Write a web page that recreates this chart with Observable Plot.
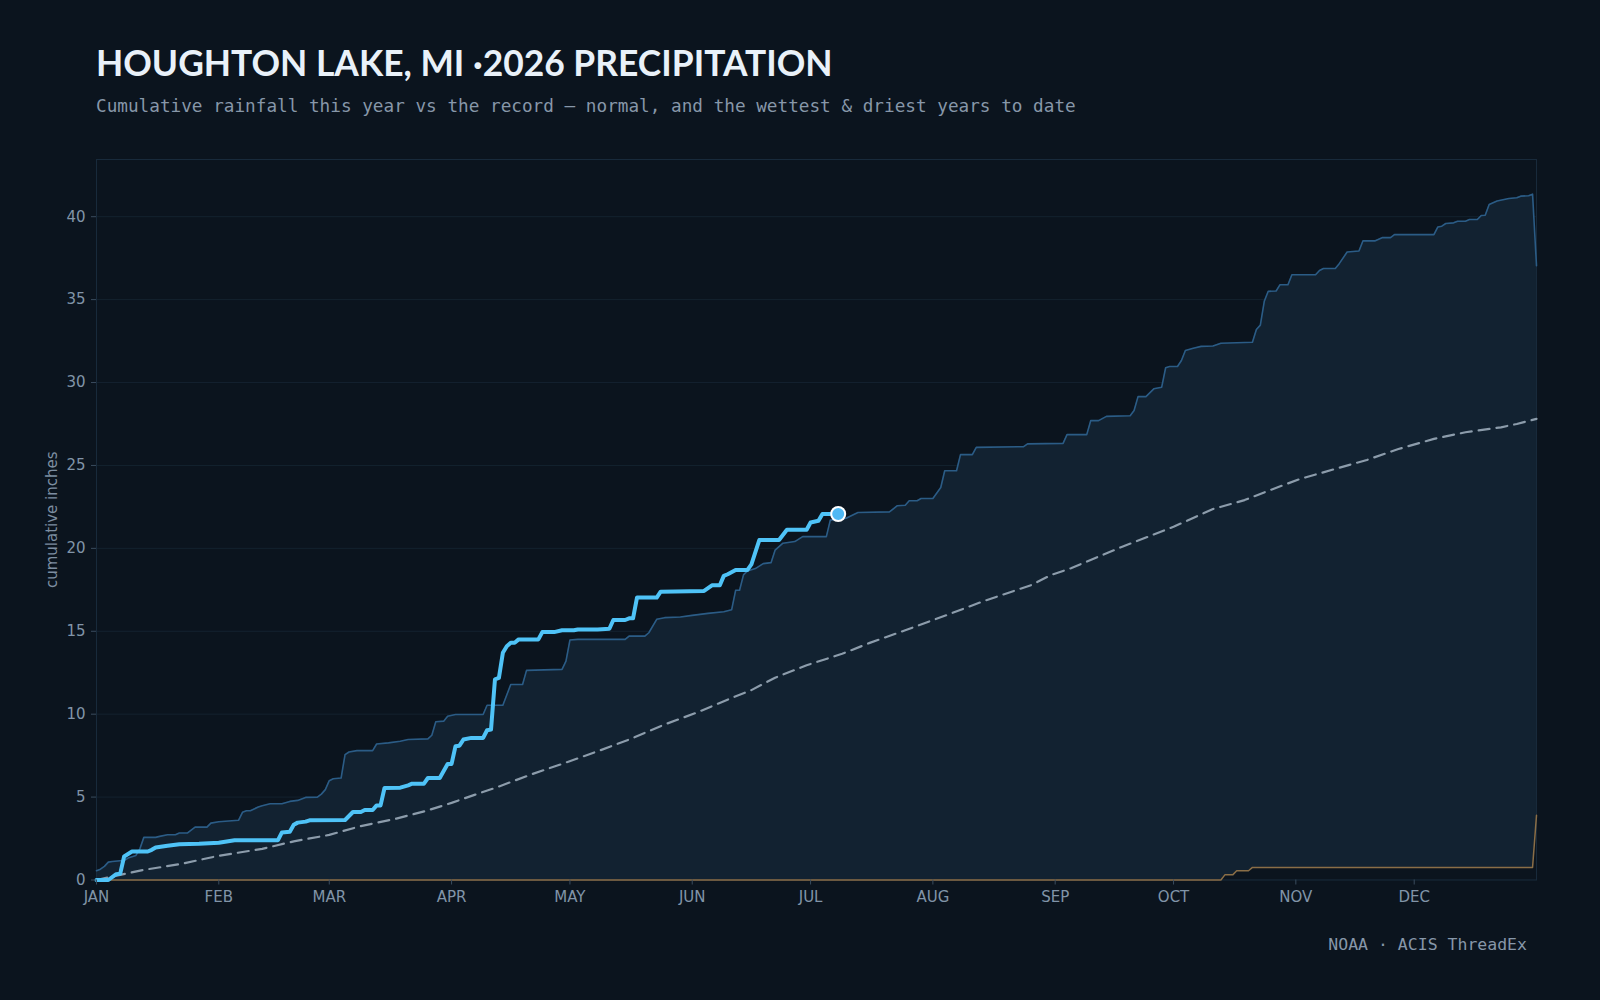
<!DOCTYPE html>
<html>
<head>
<meta charset="utf-8">
<script src="https://cdn.jsdelivr.net/npm/d3@7"></script>
<script src="https://cdn.jsdelivr.net/npm/@observablehq/plot@0.6"></script>
<style>
  html, body { margin: 0; padding: 0; background: #0b141e; }
  #page { position: relative; width: 1600px; height: 1000px; background: #0b141e; overflow: hidden; }
  #title { position: absolute; left: 96px; top: 45px; font-family: Lato, "Noto Sans", sans-serif; font-weight: 700;
           font-size: 35.4px; line-height: 1; color: #e9f1f9; white-space: nowrap; letter-spacing: 0px; }
  #subtitle { position: absolute; left: 96px; top: 98px; font-family: "DejaVu Sans Mono", monospace; font-size: 17.7px;
              line-height: 1; color: #8797a9; white-space: nowrap; }
  #chart { position: absolute; left: 0; top: 130px; }
  #footer { position: absolute; right: 73px; top: 937px; font-family: "DejaVu Sans Mono", monospace; font-size: 16.5px;
            line-height: 1; color: #8797a9; white-space: nowrap; }
</style>
</head>
<body>
<div id="page">
  <div id="title">HOUGHTON LAKE, MI ·2026 PRECIPITATION</div>
  <div id="subtitle">Cumulative rainfall this year vs the record — normal, and the wettest &amp; driest years to date</div>
  <div id="chart"></div>
  <div id="footer">NOAA · ACIS ThreadEx</div>
</div>
<script>
// ---- Data: [day of year (0 = Jan 1), cumulative inches] ----
const thisYear = [[0,0],[3,0],[5,0.35],[6,0.37],[7,1.42],[9,1.72],[13,1.72],[14,1.82],[15,1.96],[18,2.06],[21,2.16],[26,2.18],[31,2.25],[35,2.4],[46,2.4],[47,2.87],[49,2.91],[50,3.33],[51,3.46],[53,3.52],[54,3.6],[63,3.62],[65,4.1],[67,4.1],[68,4.22],[70,4.22],[71,4.5],[72,4.5],[73,5.55],[77,5.57],[79,5.71],[80,5.81],[83,5.81],[84,6.15],[87,6.15],[89,7.0],[90,7.0],[91,8.07],[92,8.1],[93,8.47],[95,8.57],[98,8.57],[99,9.03],[100,9.07],[101,12.1],[102,12.19],[103,13.7],[104,14.1],[105,14.31],[106,14.31],[107,14.51],[112,14.51],[113,14.95],[116,14.95],[118,15.06],[121,15.06],[122,15.11],[127,15.11],[130,15.15],[131,15.68],[134,15.68],[135,15.78],[136,15.78],[137,17.03],[142,17.03],[143,17.39],[154,17.43],[156,17.77],[158,17.77],[159,18.34],[160,18.44],[162,18.7],[165,18.7],[166,19.04],[168,20.5],[173,20.5],[175,21.12],[180,21.12],[181,21.56],[183,21.66],[184,22.07],[188,22.07]];

const wettest = [[0,0.56],[1,0.65],[2,0.82],[3,1.08],[4,1.12],[6,1.16],[7,1.17],[8,1.32],[10,1.48],[11,1.88],[12,2.57],[15,2.57],[16,2.63],[18,2.73],[20,2.73],[21,2.83],[23,2.83],[25,3.19],[28,3.19],[29,3.43],[31,3.51],[36,3.6],[37,4.08],[38,4.18],[39,4.18],[41,4.4],[42,4.48],[44,4.6],[47,4.6],[49,4.74],[51,4.8],[53,4.98],[56,5.0],[57,5.18],[58,5.45],[59,5.99],[60,6.11],[62,6.15],[63,7.56],[64,7.72],[66,7.8],[70,7.8],[71,8.2],[74,8.27],[77,8.37],[79,8.47],[84,8.51],[85,8.73],[86,9.54],[88,9.58],[89,9.88],[91,9.98],[98,9.98],[99,10.54],[103,10.54],[105,11.79],[108,11.79],[109,12.64],[118,12.7],[119,13.2],[120,14.47],[122,14.51],[134,14.51],[135,14.71],[139,14.71],[140,14.91],[142,15.72],[144,15.82],[148,15.86],[151,15.96],[155,16.08],[159,16.18],[161,16.3],[162,17.47],[163,17.47],[164,18.4],[165,18.64],[167,18.78],[169,19.08],[171,19.14],[172,19.89],[174,20.31],[177,20.41],[178,20.56],[179,20.71],[185,20.71],[186,21.7],[188,21.76],[190,21.82],[193,22.16],[201,22.2],[203,22.57],[205,22.6],[206,22.87],[208,22.87],[209,23.01],[212,23.01],[214,23.67],[215,24.68],[218,24.68],[219,25.65],[222,25.65],[223,26.09],[235,26.13],[236,26.3],[245,26.33],[246,26.86],[251,26.86],[252,27.7],[254,27.7],[256,27.96],[262,28.0],[263,28.31],[264,29.15],[266,29.15],[268,29.62],[270,29.72],[271,30.89],[272,30.97],[274,30.97],[275,31.33],[276,31.93],[278,32.07],[280,32.18],[283,32.2],[285,32.37],[293,32.43],[294,33.2],[295,33.46],[296,34.9],[297,35.5],[299,35.52],[300,35.9],[302,35.9],[303,36.5],[309,36.5],[310,36.76],[311,36.88],[314,36.88],[315,37.17],[317,37.87],[320,37.93],[321,38.54],[324,38.54],[326,38.74],[328,38.74],[329,38.92],[339,38.92],[340,39.38],[341,39.43],[342,39.59],[344,39.63],[345,39.73],[347,39.73],[348,39.83],[350,39.83],[351,40.07],[352,40.09],[353,40.74],[355,40.95],[358,41.1],[360,41.14],[361,41.24],[363,41.26],[364,41.36],[365,37.05]];

const normal = [[0,0],[4,0.21],[12,0.61],[21,0.95],[31,1.46],[42,1.88],[50,2.33],[59,2.72],[67,3.25],[76,3.7],[84,4.2],[90,4.65],[96,5.15],[101,5.55],[110,6.35],[118,7.0],[127,7.76],[135,8.47],[144,9.38],[152,10.08],[161,10.98],[166,11.45],[172,12.2],[180,12.95],[189,13.64],[196,14.3],[205,15.06],[216,16.02],[225,16.83],[237,17.79],[242,18.4],[247,18.8],[260,20.1],[273,21.3],[283,22.37],[291,22.91],[297,23.47],[305,24.18],[314,24.79],[322,25.33],[330,25.99],[339,26.6],[347,27.0],[356,27.3],[360,27.5],[365,27.81]];

const driest = [[0,0],[285,0],[286,0.31],[288,0.31],[289,0.56],[292,0.56],[293,0.76],[364,0.76],[365,3.9]];

const yTicks = [0, 5, 10, 15, 20, 25, 30, 35, 40];
const monthLabels = ["JAN","FEB","MAR","APR","MAY","JUN","JUL","AUG","SEP","OCT","NOV","DEC"];
const yearStart = 2026;
const yMax = 43.45;

// ---- Build ----
const toDate = d => new Date(Date.UTC(yearStart, 0, 1 + d));
const rows = arr => arr.map(([d, v]) => ({date: toDate(d), value: v}));
const tY = rows(thisYear), wet = rows(wettest), norm = rows(normal), dry = rows(driest);
const monthTicks = monthLabels.map((_, i) => new Date(Date.UTC(yearStart, i, 1)));

const BG = "#0b141e";
const chart = Plot.plot({
  width: 1600,
  height: 800,
  marginTop: 29,
  marginBottom: 50.5,
  marginLeft: 96,
  marginRight: 64,
  style: {background: "transparent", color: "#8194a8", fontFamily: "DejaVu Sans, sans-serif", fontSize: "15px"},
  x: {type: "utc", domain: [toDate(0), toDate(365)], label: null},
  y: {domain: [0, yMax], label: null},
  marks: [
    Plot.gridY(yTicks.slice(1), {stroke: "#14222f", strokeOpacity: 1}),
    Plot.areaY(wet, {x: "date", y: "value", fill: "#122231", fillOpacity: 1}),
    Plot.areaY(dry, {x: "date", y: "value", fill: BG, fillOpacity: 1}),
    Plot.frame({stroke: "#182a3b"}),
    Plot.line(norm, {x: "date", y: "value", stroke: "#8c9cab", strokeWidth: 2.2, strokeDasharray: "11,7"}),
    Plot.line(dry, {x: "date", y: "value", stroke: "#8a6e47", strokeWidth: 1.5}),
    Plot.line(wet, {x: "date", y: "value", stroke: "#2b5c86", strokeWidth: 1.6}),
    Plot.line(tY, {x: "date", y: "value", stroke: "#4fc3f7", strokeWidth: 4, strokeLinejoin: "round"}),
    Plot.dot([tY[tY.length - 1]], {x: "date", y: "value", r: 7, fill: "#4fb8f3", stroke: "#ffffff", strokeWidth: 2}),
    Plot.axisX({ticks: monthTicks, tickFormat: d => monthLabels[d.getUTCMonth()], tickSize: 5, tickPadding: 6, stroke: "#3a4c5e", fill: "#8194a8"}),
    Plot.axisY({ticks: yTicks, tickFormat: d => String(d), tickSize: 5, tickPadding: 6, stroke: "#3a4c5e", fill: "#8194a8"}),
    Plot.text(["cumulative inches"], {frameAnchor: "left", textAnchor: "middle", rotate: -90, dx: -44, fill: "#7d8ea1", fontSize: 15, text: d => d})
  ]
});
document.getElementById("chart").appendChild(chart);
</script>
</body>
</html>
